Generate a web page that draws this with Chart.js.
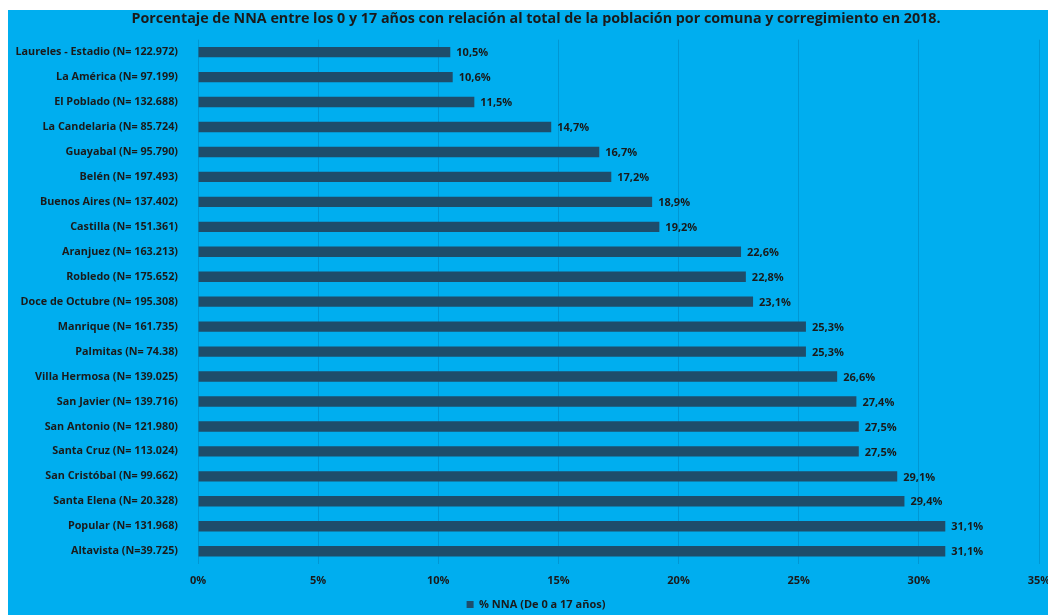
<!DOCTYPE html>
<html>
<head>
<meta charset="utf-8">
<script src="https://cdn.jsdelivr.net/npm/chart.js@4"></script>
<style>
  html, body { margin: 0; padding: 0; background: #fff; overflow: hidden; }
  #wrap { position: absolute; left: 8px; top: 10px; width: 1058px; height: 605px; background: #00aeef; overflow: hidden; }
</style>
</head>
<body>
<div id="wrap"><canvas id="chart" width="1058" height="610"></canvas></div>
<script>
// comunas / corregimientos, top to bottom
const labels = [
  'Laureles - Estadio (N= 122.972)', 'La América (N= 97.199)', 'El Poblado (N= 132.688)',
  'La Candelaria (N= 85.724)', 'Guayabal (N= 95.790)', 'Belén (N= 197.493)',
  'Buenos Aires (N= 137.402)', 'Castilla (N= 151.361)', 'Aranjuez (N= 163.213)',
  'Robledo (N= 175.652)', 'Doce de Octubre (N= 195.308)', 'Manrique (N= 161.735)',
  'Palmitas (N= 74.38)', 'Villa Hermosa (N= 139.025)', 'San Javier (N= 139.716)',
  'San Antonio (N= 121.980)', 'Santa Cruz (N= 113.024)', 'San Cristóbal (N= 99.662)',
  'Santa Elena (N= 20.328)', 'Popular (N= 131.968)', 'Altavista (N=39.725)'
];
const pctNNA = [10.5, 10.6, 11.5, 14.7, 16.7, 17.2, 18.9, 19.2, 22.6, 22.8, 23.1,
                25.3, 25.3, 26.6, 27.4, 27.5, 27.5, 29.1, 29.4, 31.1, 31.1];
const xTicks = [0, 5, 10, 15, 20, 25, 30, 35];

const FONT = "'Open Sans', sans-serif";
const TXT = '#1a1a1a';
const fmt = v => v.toFixed(1).replace('.', ',') + '%';

// draws the value just past the end of each bar
const valueLabels = {
  id: 'valueLabels',
  afterDatasetsDraw(chart) {
    const ctx = chart.ctx;
    const meta = chart.getDatasetMeta(0);
    ctx.save();
    ctx.font = 'bold 11px ' + FONT;
    ctx.fillStyle = TXT;
    ctx.textBaseline = 'middle';
    meta.data.forEach((bar, i) => {
      ctx.fillText(fmt(pctNNA[i]), bar.x + 6, bar.y + 1);
    });
    ctx.restore();
  }
};

new Chart(document.getElementById('chart'), {
  type: 'bar',
  data: {
    labels: labels,
    datasets: [{
      label: '% NNA (De 0 a 17 años)',
      data: pctNNA,
      backgroundColor: '#1e4d6b',
      barPercentage: 0.8,
      categoryPercentage: 0.52
    }]
  },
  options: {
    indexAxis: 'y',
    responsive: false,
    animation: false,
    layout: { padding: { left: 0, right: 2, top: 0, bottom: 0 } },
    plugins: {
      title: {
        display: true,
        text: 'Porcentaje de NNA entre los 0 y 17 años con relación al total de la población por comuna y corregimiento en 2018.',
        color: TXT,
        font: { family: FONT, size: 14.3, weight: 'bold' },
        padding: { top: 0, bottom: 12.5 }
      },
      legend: {
        position: 'bottom',
        labels: {
          color: TXT,
          font: { family: FONT, size: 11, weight: 'bold' },
          boxWidth: 7, boxHeight: 7, padding: 5.8
        }
      },
      tooltip: { enabled: false }
    },
    scales: {
      x: {
        min: 0, max: 35,
        afterBuildTicks: s => { s.ticks = xTicks.map(v => ({ value: v })); },
        afterFit: s => { s.height = 29.5; },
        ticks: {
          color: TXT,
          font: { family: FONT, size: 11, weight: 'bold' },
          padding: 11,
          callback: v => v + '%'
        },
        grid: { color: 'rgba(0,60,100,0.2)', drawTicks: false },
        border: { display: false }
      },
      y: {
        afterFit: s => { s.width = 190; },
        ticks: {
          color: TXT,
          font: { family: FONT, size: 10.8, weight: 'bold' },
          padding: 12
        },
        grid: { display: false },
        border: { display: false }
      },
      // empty right-hand strip so the plot ends where the reference does
      yRight: {
        type: 'linear',
        position: 'right',
        afterFit: s => { s.width = 25; },
        ticks: { display: false },
        grid: { display: false },
        border: { display: false }
      }
    }
  },
  plugins: [valueLabels]
});
</script>
</body>
</html>
